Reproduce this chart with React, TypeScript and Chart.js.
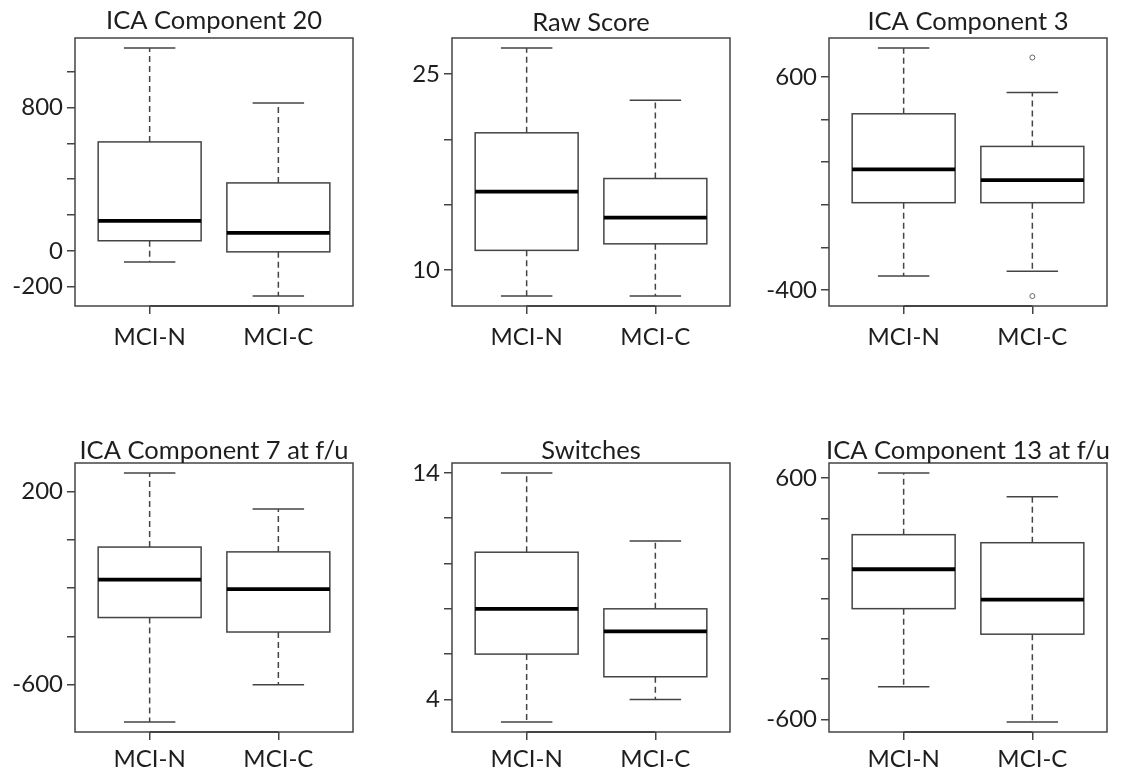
import React, { useEffect, useRef } from "react";
import { Chart, registerables } from "chart.js";

Chart.register(...registerables);

// ---------- data ----------
const categories = ["MCI-N", "MCI-C"];
const titles = [
  "ICA Component 20",
  "Raw Score",
  "ICA Component 3",
  "ICA Component 7 at f/u",
  "Switches",
  "ICA Component 13 at f/u",
];

// five-number summaries: [lower whisker, Q1, median, Q3, upper whisker]
const comp20N = [-63, 56, 167, 608, 1133];
const comp20C = [-253, -6, 100, 379, 826];
const rawN = [8, 11.5, 16, 20.5, 27];
const rawC = [8, 12, 14, 17, 23];
const comp3N = [-334, 10, 166, 427, 736];
const comp3C = [-311, 10, 116, 274, 527];
const comp7N = [-755, -322, -165, -30, 277];
const comp7C = [-600, -382, -204, -50, 128];
const switchN = [3, 6, 8, 10.5, 14];
const switchC = [4, 5, 7, 8, 11];
const comp13N = [-437, -49, 147, 319, 626];
const comp13C = [-613, -176, -4, 279, 508];

// outliers
const comp3COutliers = [691, -428];

// y ticks and which of them carry labels
const comp20Ticks = [-200, 0, 200, 400, 600, 800, 1000];
const comp20Labels = [-200, 0, 800];
const rawTicks = [10, 15, 20, 25];
const rawLabels = [10, 25];
const comp3Ticks = [-400, -200, 0, 200, 400, 600];
const comp3Labels = [-400, 600];
const comp7Ticks = [-600, -400, -200, 0, 200];
const comp7Labels = [-600, 200];
const switchTicks = [4, 6, 8, 10, 12, 14];
const switchLabels = [4, 14];
const comp13Ticks = [-600, -400, -200, 0, 200, 400, 600];
const comp13Labels = [-600, 600];

type Panel = {
  title: string;
  groups: number[][];
  outliers: number[][];
  ticks: number[];
  labels: number[];
};

const panels: Panel[] = [
  { title: titles[0], groups: [comp20N, comp20C], outliers: [[], []], ticks: comp20Ticks, labels: comp20Labels },
  { title: titles[1], groups: [rawN, rawC], outliers: [[], []], ticks: rawTicks, labels: rawLabels },
  { title: titles[2], groups: [comp3N, comp3C], outliers: [[], comp3COutliers], ticks: comp3Ticks, labels: comp3Labels },
  { title: titles[3], groups: [comp7N, comp7C], outliers: [[], []], ticks: comp7Ticks, labels: comp7Labels },
  { title: titles[4], groups: [switchN, switchC], outliers: [[], []], ticks: switchTicks, labels: switchLabels },
  { title: titles[5], groups: [comp13N, comp13C], outliers: [[], []], ticks: comp13Ticks, labels: comp13Labels },
];

// ---------- layout / style ----------
// plot frame rectangles on the page: [left, top, right, bottom]
const frames = [
  [75, 38, 353, 306],
  [452, 38, 730, 306],
  [829, 38, 1107, 306],
  [75, 463, 353, 732],
  [452, 463, 730, 732],
  [829, 463, 1107, 732],
];
const titleGap = [9, 7, 8, 4, 4, 4];
const xLabelPad = [9, 9, 9, 5, 5, 5];

const Y_AXIS_W = 75;
const TOP_PAD = 38;
const RIGHT_PAD = 12;
const X_AXIS_H = 43;

const FONT_FAMILY = 'Lato, "Open Sans", sans-serif';
const FONT_SIZE = 24;
const TITLE_SIZE = 25.5;
const TEXT_COLOR = "#1e1e1e";
const LINE_COLOR = "#444444";

function makeBoxPlugin(p: Panel, gap: number) {
  return {
    id: "boxExtras",
    afterDatasetsDraw(chart: any) {
      const { ctx, chartArea } = chart;
      const xs = chart.scales.x;
      const ys = chart.scales.y;
      ctx.save();
      p.groups.forEach((g, i) => {
        const pos = i + 1;
        const cx = xs.getPixelForValue(pos);
        const halfBox = xs.getPixelForValue(pos + 0.4) - cx;
        const halfCap = xs.getPixelForValue(pos + 0.2) - cx;
        const [lo, q1, med, q3, hi] = g;
        // whiskers (dashed)
        ctx.strokeStyle = LINE_COLOR;
        ctx.lineWidth = 1.5;
        ctx.setLineDash([6, 4]);
        ctx.beginPath();
        ctx.moveTo(cx, ys.getPixelForValue(q3));
        ctx.lineTo(cx, ys.getPixelForValue(hi));
        ctx.moveTo(cx, ys.getPixelForValue(q1));
        ctx.lineTo(cx, ys.getPixelForValue(lo));
        ctx.stroke();
        ctx.setLineDash([]);
        // caps
        ctx.beginPath();
        ctx.moveTo(cx - halfCap, ys.getPixelForValue(hi));
        ctx.lineTo(cx + halfCap, ys.getPixelForValue(hi));
        ctx.moveTo(cx - halfCap, ys.getPixelForValue(lo));
        ctx.lineTo(cx + halfCap, ys.getPixelForValue(lo));
        ctx.stroke();
        // box outline (centered on the values)
        ctx.strokeRect(
          cx - halfBox,
          ys.getPixelForValue(q3),
          2 * halfBox,
          ys.getPixelForValue(q1) - ys.getPixelForValue(q3)
        );
        // median
        ctx.strokeStyle = "#000";
        ctx.lineWidth = 3.8;
        ctx.beginPath();
        ctx.moveTo(cx - halfBox, ys.getPixelForValue(med));
        ctx.lineTo(cx + halfBox, ys.getPixelForValue(med));
        ctx.stroke();
        // outliers
        ctx.strokeStyle = "#666";
        ctx.lineWidth = 1;
        p.outliers[i].forEach((v) => {
          ctx.beginPath();
          ctx.arc(cx, ys.getPixelForValue(v), 2.5, 0, Math.PI * 2);
          ctx.stroke();
        });
      });
      // frame
      ctx.strokeStyle = LINE_COLOR;
      ctx.lineWidth = 1.5;
      ctx.strokeRect(
        chartArea.left,
        chartArea.top,
        chartArea.right - chartArea.left,
        chartArea.bottom - chartArea.top
      );
      // x axis line between first and last category (as R draws it)
      ctx.lineWidth = 2;
      ctx.beginPath();
      ctx.moveTo(xs.getPixelForValue(1), chartArea.bottom);
      ctx.lineTo(xs.getPixelForValue(categories.length), chartArea.bottom);
      ctx.stroke();
      // title
      ctx.fillStyle = TEXT_COLOR;
      ctx.font = `${TITLE_SIZE}px ${FONT_FAMILY}`;
      ctx.textAlign = "center";
      ctx.textBaseline = "alphabetic";
      ctx.fillText(p.title, (chartArea.left + chartArea.right) / 2, chartArea.top - gap);
      ctx.restore();
    },
  };
}

function BoxPanel({ idx }: { idx: number }) {
  const ref = useRef<HTMLCanvasElement>(null);
  const [fx0, fy0, fx1, fy1] = frames[idx];
  const width = fx1 - fx0 + Y_AXIS_W + RIGHT_PAD;
  const height = fy1 - fy0 + TOP_PAD + X_AXIS_H;

  useEffect(() => {
    const p = panels[idx];
    const all = [...p.groups[0], ...p.groups[1], ...p.outliers[0], ...p.outliers[1]];
    const lo = Math.min(...all);
    const hi = Math.max(...all);
    const ext = (hi - lo) * 0.04;
    const nGroups = categories.length;
    const xExt = nGroups * 0.04;
    const font = { family: FONT_FAMILY, size: FONT_SIZE };

    const chart = new Chart(ref.current as HTMLCanvasElement, {
      type: "bar",
      data: {
        datasets: [
          {
            data: p.groups.map((g, i) => ({ x: i + 1, y: [g[1], g[3]] })) as any,
            backgroundColor: "#ffffff",
            borderWidth: 0,
            barPercentage: 0.8,
            categoryPercentage: 1,
          },
        ],
      },
      options: {
        animation: false,
        responsive: false,
        maintainAspectRatio: false,
        layout: { padding: { top: TOP_PAD, right: RIGHT_PAD, left: 0, bottom: 0 } },
        plugins: {
          legend: { display: false },
          tooltip: { enabled: false },
          title: { display: false },
        },
        scales: {
          x: {
            type: "linear",
            min: 0.5 - xExt,
            max: nGroups + 0.5 + xExt,
            offset: false,
            border: { display: false },
            grid: {
              drawOnChartArea: false,
              offset: false,
              tickLength: 8,
              color: LINE_COLOR,
              lineWidth: 1.5,
            },
            afterBuildTicks: (s: any) => {
              s.ticks = categories.map((_, i) => ({ value: i + 1 }));
            },
            afterFit: (s: any) => {
              s.height = X_AXIS_H;
            },
            ticks: {
              autoSkip: false,
              maxRotation: 0,
              padding: xLabelPad[idx],
              color: TEXT_COLOR,
              font,
              callback: (v: any) => categories[Math.round(Number(v)) - 1] ?? "",
            },
          },
          y: {
            min: lo - ext,
            max: hi + ext,
            border: { display: false },
            grid: {
              drawOnChartArea: false,
              tickLength: 8,
              color: LINE_COLOR,
              lineWidth: 1.5,
            },
            afterBuildTicks: (s: any) => {
              s.ticks = p.ticks.map((v) => ({ value: v }));
            },
            afterFit: (s: any) => {
              s.width = Y_AXIS_W;
            },
            ticks: {
              autoSkip: false,
              padding: 4,
              color: TEXT_COLOR,
              font,
              callback: (v: any) => (p.labels.includes(Number(v)) ? String(v) : ""),
            },
          },
        },
      },
      plugins: [makeBoxPlugin(p, titleGap[idx])],
    });
    return () => chart.destroy();
  }, [idx]);

  return (
    <canvas
      ref={ref}
      width={width}
      height={height}
      style={{
        position: "absolute",
        left: fx0 - Y_AXIS_W,
        top: fy0 - TOP_PAD,
        width,
        height,
      }}
    />
  );
}

export default function App() {
  return (
    <div
      style={{
        position: "absolute",
        left: 0,
        top: 0,
        width: 1121,
        height: 775,
        overflow: "hidden",
        background: "#ffffff",
      }}
    >
      {panels.map((_, i) => (
        <BoxPanel key={i} idx={i} />
      ))}
    </div>
  );
}
